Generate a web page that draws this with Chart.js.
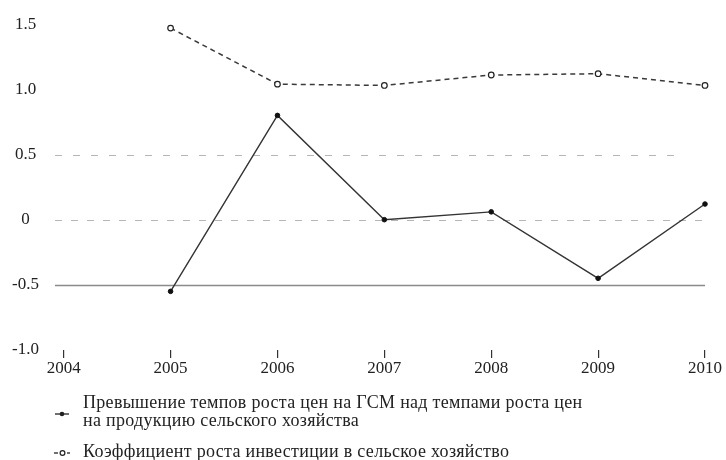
<!DOCTYPE html>
<html>
<head>
<meta charset="utf-8">
<script src="https://cdn.jsdelivr.net/npm/chart.js@4/dist/chart.umd.min.js"></script>
<style>
  html, body { margin: 0; padding: 0; background: #fff; }
  #wrap { position: relative; width: 726px; height: 460px; overflow: hidden; }
  canvas { position: absolute; left: 0; top: 0; }
  .leg { position: absolute; font-family: "Liberation Serif", "DejaVu Serif", serif; font-size: 18px; line-height: 18px; letter-spacing: 0.3px; color: #222; white-space: nowrap; }
  .mk { position: absolute; }
</style>
</head>
<body>
<div id="wrap">
  <canvas id="c" width="726" height="460"></canvas>
  <svg class="mk" style="left:50px;top:406px" width="26" height="16">
    <line x1="5" y1="8" x2="19" y2="8" stroke="#222" stroke-width="1.3"/>
    <circle cx="12" cy="8" r="2.3" fill="#222"/>
  </svg>
  <div class="leg" style="left:83px;top:393px">Превышение темпов роста цен на ГСМ над темпами роста цен<br>на продукцию сельского хозяйства</div>
  <svg class="mk" style="left:50px;top:445px" width="26" height="16">
    <line x1="4" y1="8" x2="8" y2="8" stroke="#222" stroke-width="1.3"/>
    <line x1="17" y1="8" x2="20" y2="8" stroke="#222" stroke-width="1.3"/>
    <circle cx="12.5" cy="8" r="2.4" fill="#fff" stroke="#222" stroke-width="1.2"/>
  </svg>
  <div class="leg" style="left:83px;top:442px">Коэффициент роста инвестиции в сельское хозяйство</div>
</div>
<script>
// ---- data ----
const years = [2004, 2005, 2006, 2007, 2008, 2009, 2010];
const xTickLabels = ['2004', '2005', '2006', '2007', '2008', '2009', '2010'];
const yTicks = [-1.0, -0.5, 0, 0.5, 1.0, 1.5];
const yTickLabels = ['-1.0', '-0.5', '0', '0.5', '1.0', '1.5'];
const seriesYears = [2005, 2006, 2007, 2008, 2009, 2010];
const priceExcess = [-0.55, 0.80, 0.00, 0.06, -0.45, 0.12];
const investGrowth = [1.47, 1.04, 1.03, 1.11, 1.12, 1.03];
const seriesNames = [
  'Превышение темпов роста цен на ГСМ над темпами роста цен на продукцию сельского хозяйства',
  'Коэффициент роста инвестиции в сельское хозяйство'
];
const gridLevels = [0.5, 0, -0.5];

const FONT = '"Liberation Serif", "DejaVu Serif", serif';

const refLines = {
  id: 'refLines',
  beforeDatasetsDraw(chart) {
    const {ctx, chartArea, scales} = chart;
    const styles = [
      {dash: [7, 11], color: '#b5b5b5', width: 1.2, right: 685},
      {dash: [7, 9], color: '#b5b5b5', width: 1.2, right: null},
      {dash: [], color: '#8a8a8a', width: 1.5, right: null}
    ];
    gridLevels.forEach((v, i) => {
      const y = Math.round(scales.y.getPixelForValue(v)) + 0.5;
      const s = styles[i];
      ctx.save();
      ctx.strokeStyle = s.color;
      ctx.lineWidth = s.width;
      ctx.setLineDash(s.dash);
      ctx.beginPath();
      ctx.moveTo(chartArea.left + 2, y);
      ctx.lineTo(s.right !== null ? s.right : chartArea.right, y);
      ctx.stroke();
      ctx.restore();
    });
  }
};

new Chart(document.getElementById('c'), {
  type: 'line',
  data: {
    datasets: [
      {
        label: seriesNames[0],
        data: seriesYears.map((x, i) => ({x, y: priceExcess[i]})),
        borderColor: '#333',
        borderWidth: 1.4,
        pointRadius: 2.3,
        pointBackgroundColor: '#111',
        pointBorderColor: '#111',
        pointBorderWidth: 1,
        tension: 0,
        clip: false
      },
      {
        label: seriesNames[1],
        data: seriesYears.map((x, i) => ({x, y: investGrowth[i]})),
        borderColor: '#3a3a3a',
        borderWidth: 1.5,
        borderDash: [5, 4],
        pointRadius: 2.8,
        pointBackgroundColor: '#fff',
        pointBorderColor: '#222',
        pointBorderWidth: 1.2,
        tension: 0,
        clip: false
      }
    ]
  },
  options: {
    responsive: false,
    animation: false,
    layout: { padding: { left: 0, right: 21, top: 22, bottom: 0 } },
    plugins: { legend: { display: false }, tooltip: { enabled: false } },
    scales: {
      x: {
        type: 'linear',
        min: 2003.9,
        max: 2010,
        afterBuildTicks: s => { s.ticks = years.map(v => ({value: v})); },
        afterFit: s => { s.height = 110; },
        border: { display: false },
        grid: { drawOnChartArea: false, drawTicks: true, tickLength: 8, color: '#333', lineWidth: 1.2 },
        ticks: {
          padding: 0,
          color: '#222',
          font: { family: FONT, size: 17 },
          callback: (v) => xTickLabels[years.indexOf(v)] ?? ''
        }
      },
      y: {
        min: -1,
        max: 1.5,
        afterBuildTicks: s => { s.ticks = yTicks.map(v => ({value: v})); },
        afterFit: s => { s.width = 53; },
        border: { display: false },
        grid: { display: false, drawTicks: false },
        ticks: {
          crossAlign: 'center',
          padding: 14,
          color: '#222',
          font: { family: FONT, size: 17 },
          callback: (v) => yTickLabels[yTicks.indexOf(v)] ?? ''
        }
      }
    }
  },
  plugins: [refLines]
});
</script>
</body>
</html>
